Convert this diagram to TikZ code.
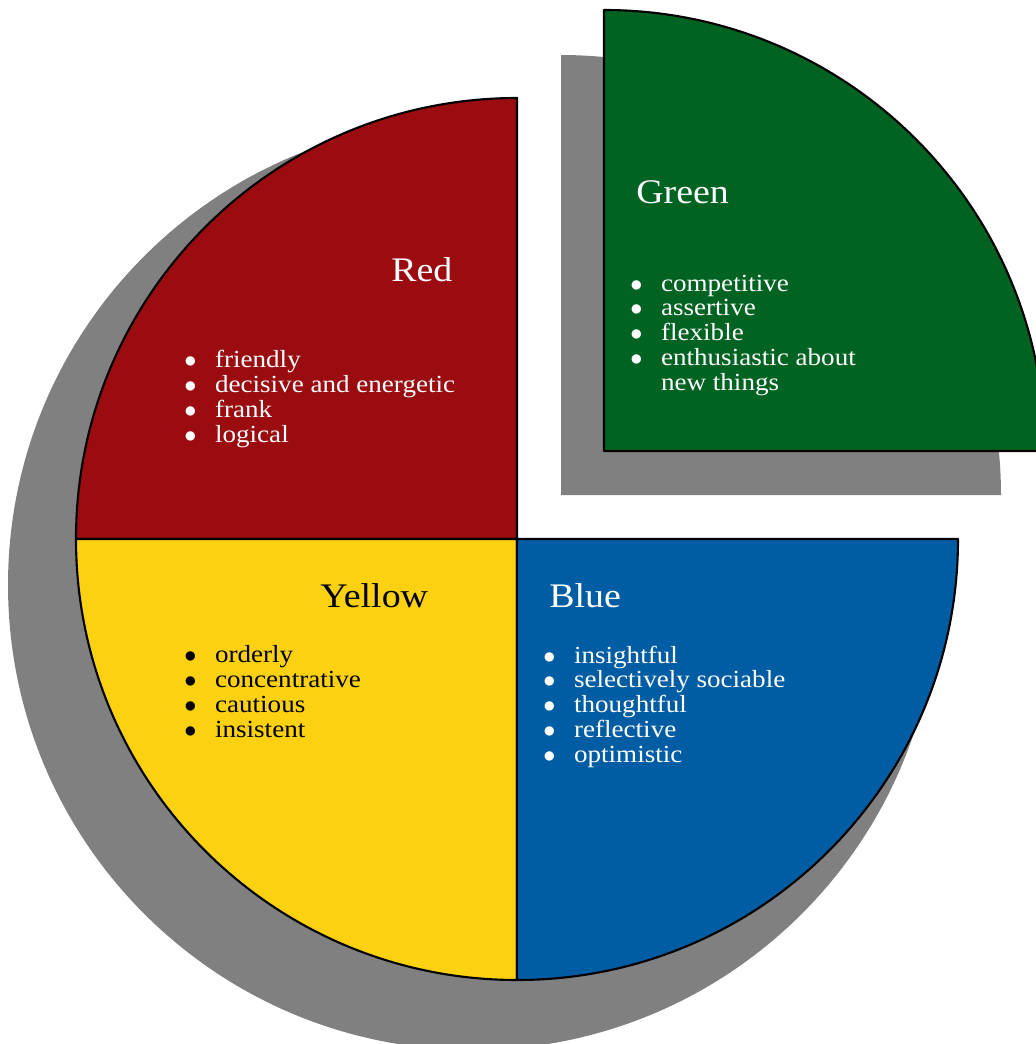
\documentclass[tikz,border=0pt]{standalone}
\usepackage{fontspec}
\setmainfont[FakeStretch=1.1]{Liberation Serif}

\definecolor{redslice}{RGB}{155,12,17}
\definecolor{yellowslice}{RGB}{251,209,18}
\definecolor{blueslice}{RGB}{0,93,164}
\definecolor{greenslice}{RGB}{1,99,34}
\definecolor{shadowgray}{RGB}{128,128,128}

\newcommand{\bul}{\makebox[0.77cm][l]{$\bullet$}}
\newcommand{\gap}{\makebox[0.77cm][l]{}}

\begin{document}
\begin{tikzpicture}
  [ x=0.025cm, y=0.025cm
  , shadowfill/.style={fill=shadowgray}
  , slice/.style={draw=black, line width=1.5pt, line join=round}
  , head/.style={anchor=base west, inner sep=0pt, font=\fontsize{24.5}{28}\selectfont}
  , items/.style={anchor=base west, inner sep=0pt, align=left, font=\fontsize{17.5}{17.56}\selectfont}
  ]

  \clip (0,0) rectangle (1036,-1044);

  % shadows
  \fill[shadowfill] (473,-585) -- (473,-120) arc[start angle=90, end angle=360, radius=465] -- cycle;
  \fill[shadowfill] (561,-495) -- (1001,-495) arc[start angle=0, end angle=90, radius=440] -- cycle;

  % slices
  \filldraw[slice, fill=redslice]    (517,-539) -- (517,-98)  arc[start angle=90,  end angle=180, radius=441] -- cycle;
  \filldraw[slice, fill=yellowslice] (517,-539) -- (76,-539)  arc[start angle=180, end angle=270, radius=441] -- cycle;
  \filldraw[slice, fill=blueslice]   (517,-539) -- (517,-980) arc[start angle=270, end angle=360, radius=441] -- cycle;
  \filldraw[slice, fill=greenslice]  (604,-451) -- (1045,-451) arc[start angle=0, end angle=90, radius=441] -- cycle;

  \node[head, text=white] (red)    at (391,-281) {Red};
  \node[head, text=white] (green)  at (636,-203) {Green};
  \node[head, text=black] (yellow) at (320,-607) {Yellow};
  \node[head, text=white] (blue)   at (549,-607) {Blue};

  % lists sit on the baseline of their last line
  \node[items, text=white] (redlist) at (184,-442)
    {\bul friendly\\ \bul decisive and energetic\\ \bul frank\\ \bul logical};
  \node[items, text=white] (greenlist) at (630,-390)
    {\bul competitive\\ \bul assertive\\ \bul flexible\\ \bul enthusiastic about\\ \gap new things};
  \node[items, text=black] (yellowlist) at (184,-737)
    {\bul orderly\\ \bul concentrative\\ \bul cautious\\ \bul insistent};
  \node[items, text=white] (bluelist) at (543,-762)
    {\bul insightful\\ \bul selectively sociable\\ \bul thoughtful\\ \bul reflective\\ \bul optimistic};

      %node {Red}
      %node {Green}
      %node {Yellow}
      %node {Blue}

\end{tikzpicture}
\end{document}
